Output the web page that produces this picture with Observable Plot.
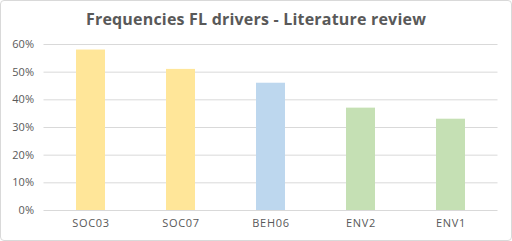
<!DOCTYPE html>
<html>
<head>
<meta charset="utf-8">
<script src="https://cdn.jsdelivr.net/npm/d3@7"></script>
<script src="https://cdn.jsdelivr.net/npm/@observablehq/plot@0.6"></script>
<style>
  html, body { margin: 0; padding: 0; background: #fff; }
  #wrap { position: relative; width: 512px; height: 241px; overflow: hidden; }
  #frame { position: absolute; left: 0; top: 0; width: 510px; height: 239px; border: 1px solid #d9d9d9; border-radius: 4px; pointer-events: none; }
  #title { height: 30px; line-height: 38px; text-align: center; font-family: "Open Sans", sans-serif; font-weight: 700; font-size: 16px; letter-spacing: 0.2px; color: #595959; }
  svg { display: block; }
  svg g[aria-label="x-axis tick label"] text { letter-spacing: 0.7px; }
</style>
</head>
<body>
<div id="wrap">
  <div id="title">Frequencies FL drivers - Literature review</div>
  <div id="chart"></div>
  <div id="frame"></div>
</div>
<script>
const categories = ["SOC03", "SOC07", "BEH06", "ENV2", "ENV1"];
const values = [0.58, 0.51, 0.46, 0.37, 0.33];
const groups = ["SOC", "SOC", "BEH", "ENV", "ENV"];
const yTicks = [0, 0.1, 0.2, 0.3, 0.4, 0.5, 0.6];

const data = categories.map((c, i) => ({category: c, value: values[i], group: groups[i]}));

const chart = Plot.plot({
  width: 512,
  height: 211,
  marginTop: 14,
  marginBottom: 31,
  marginLeft: 43.5,
  marginRight: 14.5,
  style: {fontFamily: "'Open Sans', sans-serif", fontSize: "11px", color: "#595959", background: "#fff"},
  x: {domain: categories, paddingInner: 0.68, paddingOuter: 0.34, label: null, tickSize: 0, tickPadding: 9},
  y: {domain: [0, 0.6], ticks: yTicks, tickFormat: d => Math.round(d * 100) + "%", label: null, tickSize: 0, tickPadding: 10},
  color: {domain: ["SOC", "BEH", "ENV"], range: ["#FFE699", "#BDD7EE", "#C5E0B4"]},
  marks: [
    Plot.gridY(yTicks, {stroke: "#d9d9d9", strokeOpacity: 1, strokeWidth: 1}),
    Plot.barY(data, {x: "category", y: "value", fill: "group"}),
    Plot.axisY({ticks: yTicks, tickFormat: d => Math.round(d * 100) + "%", tickSize: 0, tickPadding: 10, label: null, fill: "#595959"}),
    Plot.axisX({tickSize: 0, tickPadding: 9, label: null, fill: "#595959"})
  ]
});
document.getElementById("chart").appendChild(chart);
</script>
</body>
</html>
